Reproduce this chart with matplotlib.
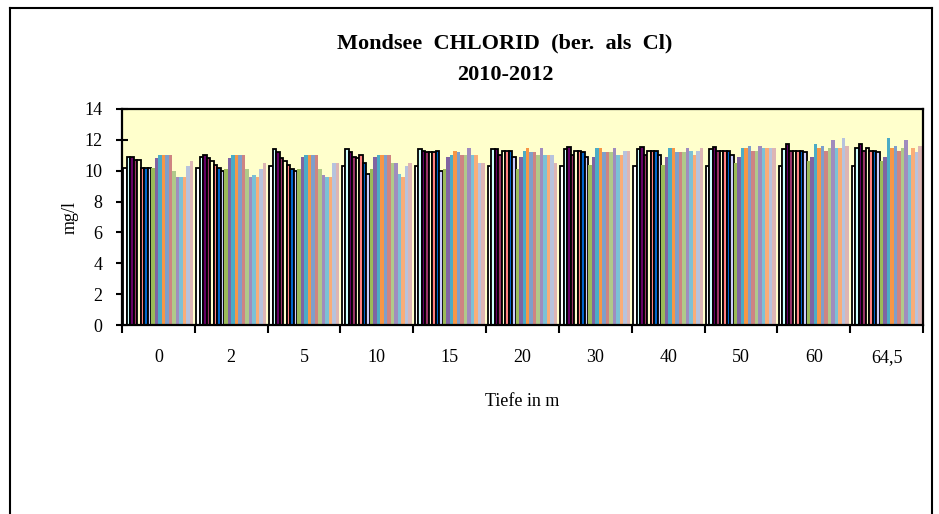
import numpy as np
import matplotlib.pyplot as plt
from matplotlib.lines import Line2D

# Tiefen (x-Gruppen)
tiefen = ["0", "2", "5", "10", "15", "20", "30", "40", "50", "60", "64,5"]

# Chlorid in mg/l, je Tiefe 20 Termine (2010-2012)
d0 = [10.2, 10.9, 10.9, 10.7, 10.7, 10.2, 10.2, 10.2, 10.2, 10.8, 11.0, 11.0, 11.0, 11.0, 10.0, 9.6, 9.6, 9.6, 10.3, 10.6]
d2 = [10.2, 10.9, 11.0, 10.8, 10.6, 10.4, 10.2, 10.0, 10.1, 10.8, 11.0, 11.0, 11.0, 11.0, 10.1, 9.6, 9.7, 9.6, 10.1, 10.5]
d5 = [10.3, 11.4, 11.2, 10.8, 10.6, 10.4, 10.1, 10.0, 10.1, 10.9, 11.0, 11.0, 11.0, 11.0, 10.1, 9.7, 9.6, 9.6, 10.5, 10.5]
d10 = [10.3, 11.4, 11.2, 10.9, 10.8, 11.0, 10.5, 9.8, 10.1, 10.9, 11.0, 11.0, 11.0, 11.0, 10.5, 10.5, 9.8, 9.6, 10.3, 10.5]
d15 = [10.3, 11.4, 11.3, 11.2, 11.2, 11.2, 11.3, 10.0, 10.1, 10.9, 11.0, 11.3, 11.2, 11.0, 11.0, 11.5, 11.0, 11.0, 10.5, 10.5]
d20 = [10.3, 11.4, 11.4, 11.0, 11.3, 11.3, 11.3, 10.9, 10.1, 10.9, 11.3, 11.45, 11.2, 11.2, 11.0, 11.45, 11.0, 11.0, 11.0, 10.5]
d30 = [10.3, 11.4, 11.55, 11.0, 11.3, 11.3, 11.2, 10.9, 10.4, 10.9, 11.45, 11.45, 11.2, 11.2, 11.2, 11.45, 11.0, 11.0, 11.3, 11.3]
d40 = [10.3, 11.4, 11.55, 11.0, 11.3, 11.3, 11.3, 11.0, 10.4, 10.9, 11.45, 11.45, 11.2, 11.2, 11.2, 11.45, 11.3, 11.0, 11.3, 11.45]
d50 = [10.3, 11.4, 11.55, 11.3, 11.3, 11.3, 11.3, 11.0, 10.5, 10.9, 11.45, 11.45, 11.6, 11.3, 11.3, 11.6, 11.45, 11.45, 11.45, 11.45]
d60 = [10.3, 11.4, 11.7, 11.3, 11.3, 11.3, 11.3, 11.2, 10.6, 10.9, 11.7, 11.45, 11.6, 11.3, 11.45, 12.0, 11.45, 11.45, 12.1, 11.6]
d64 = [10.3, 11.45, 11.7, 11.3, 11.45, 11.3, 11.3, 11.2, 10.6, 10.9, 12.1, 11.45, 11.6, 11.3, 11.45, 12.0, 11.0, 11.45, 11.2, 11.6]

werte = np.array([d0, d2, d5, d10, d15, d20, d30, d40, d50, d60, d64])

# Excel-Farben: die ersten 8 Serien mit schwarzem Rand
farben_rand = ['#FFFFFF', '#CCFFFF', '#660066', '#993366', '#FFFFCC', '#FF8080', '#0066CC', '#CCCCFF']
farben = ['#9BBB59', '#8064A2', '#4BACC6', '#F79646', '#7E9FCB', '#CE8482',
          '#B0C98A', '#A08CBE', '#7CC1D6', '#F9AD78', '#B7C3DD', '#DDB5B4']

plt.rcParams['font.family'] = ['Liberation Serif', 'DejaVu Serif']

fig = plt.figure(figsize=(9.39, 5.14), dpi=100)
ax = fig.add_axes([122 / 939, 1 - 325 / 514, 801 / 939, 216 / 514])
ax.set_facecolor('#FFFFCC')

n = werte.shape[1]
gruppe = 0.96
w = gruppe / n
x = np.arange(len(tiefen))
for j in range(n):
    pos = x - gruppe / 2 + w * (j + 0.5)
    if j < len(farben_rand):
        ax.bar(pos, werte[:, j], width=w, color=farben_rand[j],
               edgecolor='black', linewidth=1.3, zorder=2)
    else:
        ax.bar(pos, werte[:, j], width=w, color=farben[j - len(farben_rand)],
               linewidth=0, zorder=2)

ax.set_xlim(-0.5, len(tiefen) - 0.5)
ax.set_ylim(0, 14)
ax.set_yticks(range(0, 15, 2))
ax.set_xticks(x)
ax.set_xticklabels(tiefen, fontsize=13)
ax.set_xticks(np.arange(len(tiefen) + 1) - 0.5, minor=True)
ax.tick_params(axis='x', which='major', length=0, pad=17)
ax.tick_params(axis='x', which='minor', length=6, width=1.5, direction='out')
ax.tick_params(axis='y', length=8, width=1.5, direction='inout', labelsize=13, pad=10)

for s in ax.spines.values():
    s.set_linewidth(1.6)
    s.set_color('black')

ax.set_ylabel('mg/l', fontsize=13, labelpad=4)
ax.set_xlabel('Tiefe in m', fontsize=13, labelpad=20)

fig.text(505 / 939, 1 - 43 / 514, 'Mondsee  CHLORID  (ber.  als  Cl)', ha='center', va='center',
         fontsize=16, fontweight='bold')
fig.text(505 / 939, 1 - 75 / 514, '2010-2012', ha='center', va='center',
         fontsize=16, fontweight='bold')

# Rahmen des Diagrammbereichs (unten abgeschnitten)
rahmen = [((10, 10), (520, 8)), ((10, 932), (8, 8)), ((932, 932), (8, 520))]
for xs, ys in rahmen:
    fig.add_artist(Line2D([xs[0] / 939, xs[1] / 939], [1 - ys[0] / 514, 1 - ys[1] / 514],
                          color='black', linewidth=1.5))

fig.savefig('out.png', dpi=100)
